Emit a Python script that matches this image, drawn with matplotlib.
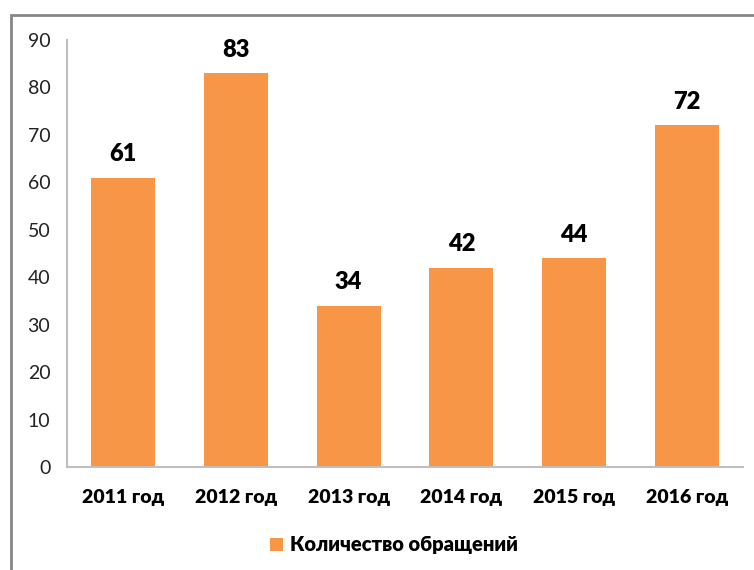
import matplotlib.pyplot as plt
from matplotlib.patches import Rectangle

# Data
years = ["2011 год", "2012 год", "2013 год", "2014 год", "2015 год", "2016 год"]
counts = [61, 83, 34, 42, 44, 72]
series_name = "Количество обращений"
y_ticks = [0, 10, 20, 30, 40, 50, 60, 70, 80, 90]

orange = "#F79646"
axis_grey = "#BFBFBF"

plt.rcParams["font.family"] = ["Lato", "DejaVu Sans"]

fig = plt.figure(figsize=(7.54, 5.70), dpi=100)
ax = fig.add_axes([67 / 754, 103 / 570, 676 / 754, 427 / 570])

x = range(len(years))
bars = ax.bar(x, counts, width=0.57, color=orange, label=series_name, zorder=2)

for xi, v in zip(x, counts):
    ax.annotate(str(v), (xi, v), xytext=(0, 9), textcoords="offset points",
                ha="center", va="bottom", fontsize=17, fontweight="heavy")

ax.set_xlim(-0.5, len(years) - 0.5)
ax.set_ylim(0, 90)
ax.set_yticks(y_ticks)
ax.set_xticks(list(x))
ax.set_xticklabels(years, fontsize=14, fontweight="heavy")
ax.tick_params(axis="y", length=0, pad=12, labelsize=14, labelcolor="#222222")
ax.tick_params(axis="x", length=0, pad=16)

for s in ["top", "right"]:
    ax.spines[s].set_visible(False)
for s in ["left", "bottom"]:
    ax.spines[s].set_color(axis_grey)
    ax.spines[s].set_linewidth(1.5)

leg = fig.legend(handles=[bars], labels=[series_name], loc="center",
                 bbox_to_anchor=(394 / 754, 1 - 545 / 570), frameon=False,
                 handlelength=0.6, handleheight=0.6, handletextpad=0.35,
                 prop={"size": 14.5, "weight": "heavy"})

# chart border (cut off on the right and bottom like the reference)
border = Rectangle((11 / 754, -0.05), 1.0, 1 - 15 / 570 + 0.05,
                   transform=fig.transFigure, fill=False,
                   edgecolor="#868686", linewidth=2)
fig.add_artist(border)

fig.savefig("out.png", dpi=100)
